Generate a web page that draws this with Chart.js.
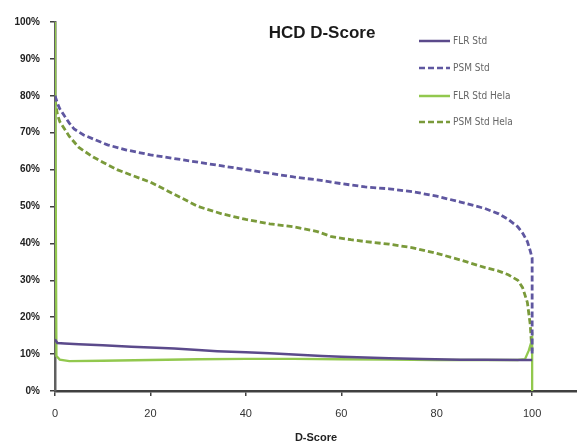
<!DOCTYPE html>
<html>
<head>
<meta charset="utf-8">
<script src="https://cdn.jsdelivr.net/npm/chart.js@4/dist/chart.umd.min.js"></script>
<style>
html,body{margin:0;padding:0;background:#fff;}
#wrap{width:577px;height:443px;position:relative;}
</style>
</head>
<body>
<div id="wrap"><canvas id="c"></canvas></div>
<script>
// ---- data (D-Score on x, percent on y) ----
const chartTitle = 'HCD D-Score';
const xAxisTitle = 'D-Score';
const seriesNames = ['FLR Std', 'PSM Std', 'FLR Std Hela', 'PSM Std Hela'];
const yTicks = [0,10,20,30,40,50,60,70,80,90,100];
const xTicks = [0,20,40,60,80,100];

const flrStdX = [0,0.5,2,5,10,16,20,25,30,34,40,45,51,56,60,65,70,77,85,90,98,100];
const flrStdY = [14,13,12.9,12.7,12.4,12,11.8,11.5,11.1,10.8,10.5,10.2,9.8,9.5,9.3,9.1,8.9,8.7,8.5,8.5,8.4,8.4];

const psmStdX = [0,0.5,1,2,3,4,6,8,11,15,20,25,30,35,40,45,50,55,60,65,70,75,80,85,90,93,95,97,98,99,99.6,100,100];
const psmStdY = [80,78,76.5,74.5,72.6,71,69.4,68.3,66.7,65.3,64,63,62,61,60,59,58,57.2,56.2,55.3,54.8,54,52.8,51.2,49.5,48,46.5,44.5,42.8,40.5,38,36,10];

const flrHelaX = [0,0.3,1,3,10,20,30,40,50,60,70,80,90,97,98.5,99.3,100,100];
const flrHelaY = [100,9.5,8.5,8.1,8.2,8.4,8.6,8.7,8.7,8.6,8.5,8.4,8.4,8.4,8.6,11,14,0];

const psmHelaX = [0,0.5,1,2,3,5,8,10,13,16,20,25,30,35,40,45,50,55,58,62,65,70,75,80,85,90,93,95,97,98,99,99.6,100];
const psmHelaY = [79,75,73,71,69,66,63.4,62,60,58.5,56.6,53.3,50,48,46.5,45.3,44.5,43.2,41.8,41,40.5,39.8,38.8,37.3,35.5,33.5,32.5,31.5,30,28,24,18,10];

function pts(xs, ys){ return xs.map((x,i)=>({x:x, y:ys[i]})); }

const titlePlugin = {
  id:'fixedTitle',
  afterDraw(chart){
    const ctx = chart.ctx;
    ctx.save();
    ctx.font = 'bold 17px "Liberation Sans", Arial, sans-serif';
    ctx.fillStyle = '#1a1a1a';
    ctx.textAlign = 'center';
    ctx.textBaseline = 'middle';
    ctx.fillText(chartTitle, 322, 33);
    ctx.restore();
  }
};

const legendPlugin = {
  id:'insideLegend',
  afterDraw(chart){
    const ctx = chart.ctx;
    const ys = [41, 68, 96, 122];
    ctx.save();
    chart.data.datasets.forEach((ds, i) => {
      const y = ys[i];
      ctx.strokeStyle = ds.borderColor;
      ctx.lineWidth = 2.5;
      ctx.setLineDash(ds.borderDash || []);
      ctx.beginPath();
      ctx.moveTo(419, y);
      ctx.lineTo(450, y);
      ctx.stroke();
      ctx.setLineDash([]);
      ctx.font = '10px "Liberation Sans Narrow", "DejaVu Sans Condensed", Arial, sans-serif';
      ctx.fillStyle = '#666';
      ctx.textAlign = 'left';
      ctx.textBaseline = 'middle';
      ctx.fillText(ds.label, 453, y);
    });
    ctx.restore();
  }
};

new Chart(document.getElementById('c'), {
  type: 'line',
  data: {
    datasets: [
      { label: seriesNames[0], data: pts(flrStdX, flrStdY), borderColor: '#5b4a8b', borderWidth: 2.5 },
      { label: seriesNames[1], data: pts(psmStdX, psmStdY), borderColor: '#5f57a0', borderWidth: 2.8, borderDash: [6,3] },
      { label: seriesNames[2], data: pts(flrHelaX, flrHelaY), borderColor: '#92c84e', borderWidth: 2.3 },
      { label: seriesNames[3], data: pts(psmHelaX, psmHelaY), borderColor: '#7a9a3a', borderWidth: 2.8, borderDash: [6,3] }
    ]
  },
  options: {
    responsive: true,
    maintainAspectRatio: false,
    animation: false,
    layout: { padding: { top: 22, right: 0, left: 0, bottom: 0 } },
    elements: { point: { radius: 0 }, line: { tension: 0, fill: false } },
    plugins: { legend: { display: false }, title: { display: false }, tooltip: { enabled: false } },
    scales: {
      x: {
        type: 'linear', min: 0, max: 109.4,
        afterFit(s){ s.height = 52; },
        afterBuildTicks(s){ s.ticks = xTicks.map(v => ({value: v})); },
        ticks: { color: '#333', font: { size: 11, family: '"Liberation Sans", Arial, sans-serif' }, padding: 11, maxRotation: 0 },
        grid: { drawOnChartArea: false, drawTicks: true, tickLength: 5, color: '#404040', lineWidth: 1.5 },
        border: { color: '#404040', width: 2.5 },
        title: { display: true, text: xAxisTitle, color: '#222', font: { size: 11, weight: 'bold', lineHeight: 1, family: '"Liberation Sans", Arial, sans-serif' }, padding: { top: 4, bottom: 0 } }
      },
      y: {
        type: 'linear', min: 0, max: 100,
        afterFit(s){ s.width = 55; },
        afterBuildTicks(s){ s.ticks = yTicks.map(v => ({value: v})); },
        ticks: { color: '#222', font: { size: 10, weight: 'bold', family: '"Liberation Sans", Arial, sans-serif' }, padding: 10, callback: v => v + '%' },
        grid: { drawOnChartArea: false, drawTicks: true, tickLength: 5, color: '#404040', lineWidth: 1.5 },
        border: { color: '#606060', width: 2.5 }
      }
    }
  },
  plugins: [titlePlugin, legendPlugin]
});
</script>
</body>
</html>
